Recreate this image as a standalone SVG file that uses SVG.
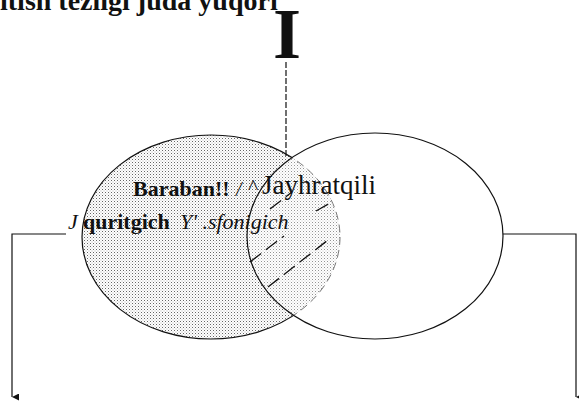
<svg xmlns="http://www.w3.org/2000/svg" width="579" height="401" viewBox="0 0 579 401">
<style>
.t{font-family:"Liberation Serif","Times New Roman",serif;fill:#111}
.b{font-weight:bold}
.i{font-style:italic}
.ln{fill:none;stroke:#111;stroke-width:1.2}
.hatch{fill:none;stroke:#111;stroke-width:1.3;stroke-dasharray:14 6}
</style>
<defs>
<pattern id="stip" width="3" height="3" patternUnits="userSpaceOnUse">
<rect width="3" height="3" fill="#fff"/>
<rect width="1" height="1" fill="#666"/>
<rect x="1.5" y="1.5" width="1" height="1" fill="#b0b0b0"/>
</pattern>
<marker id="arr" viewBox="0 0 10 10" refX="5" refY="10" markerWidth="7" markerHeight="9" orient="auto" markerUnits="userSpaceOnUse">
<path d="M0,0 L10,0 L5,10 Z" fill="#111"/>
</marker>
<clipPath id="inRight"><ellipse cx="375" cy="236" rx="128" ry="103"/></clipPath>
<clipPath id="inLeft"><ellipse cx="211" cy="237" rx="129" ry="102"/></clipPath>
<mask id="outRight"><rect width="579" height="401" fill="#fff"/><ellipse cx="375" cy="236" rx="128" ry="103" fill="#000"/></mask>
</defs>

<text class="t b" x="0" y="10" font-size="28">itish tezligi juda yuqori</text>
<text class="t b" x="287" y="58" font-size="72" text-anchor="middle">I</text>

<g id="left-set">
<ellipse cx="211" cy="237" rx="129" ry="102" fill="url(#stip)"/>
<g clip-path="url(#inRight)"><ellipse cx="211" cy="237" rx="129" ry="102" fill="#fff" opacity="0.3"/></g>
<ellipse cx="211" cy="237" rx="129" ry="102" class="ln" mask="url(#outRight)"/>
<g clip-path="url(#inRight)"><ellipse cx="211" cy="237" rx="129" ry="102" fill="none" stroke="#777" stroke-width="1" stroke-dasharray="8 5"/></g>
</g>

<g id="right-set">
<ellipse cx="375" cy="236" rx="128" ry="103" class="ln"/>
</g>

<g id="overlap-hatch" clip-path="url(#inLeft)">
<line class="hatch" x1="250" y1="262" x2="284" y2="236"/>
<line class="hatch" x1="268" y1="287" x2="328" y2="240"/>
<line class="hatch" x1="270" y1="209" x2="292" y2="192"/>
<line class="hatch" x1="316" y1="211" x2="332" y2="202"/>
<line class="hatch" x1="310" y1="170" x2="318" y2="176"/>
</g>

<g id="labels">
<text class="t b" x="133" y="196" font-size="22">Baraban!!</text>
<text class="t i" x="236" y="196" font-size="20" fill="#444">/</text>
<text class="t" x="248" y="194" font-size="22">^</text>
<text class="t" x="262" y="194" font-size="27">Jayhratqili</text>
<text class="t i" x="68" y="229" font-size="22">J</text>
<text class="t b" x="83" y="229" font-size="22">quritgich</text>
<text class="t i" x="180" y="229" font-size="22" fill="#333">Y' .sfonigich</text>
</g>

<g id="connectors">
<line class="ln" x1="286" y1="62" x2="286" y2="157" stroke-dasharray="6 2"/>
<polyline class="ln" points="66,234 12,234 12,397" marker-end="url(#arr)"/>
<polyline class="ln" points="503,234 576,234 576,397" marker-end="url(#arr)"/>
</g>
</svg>
